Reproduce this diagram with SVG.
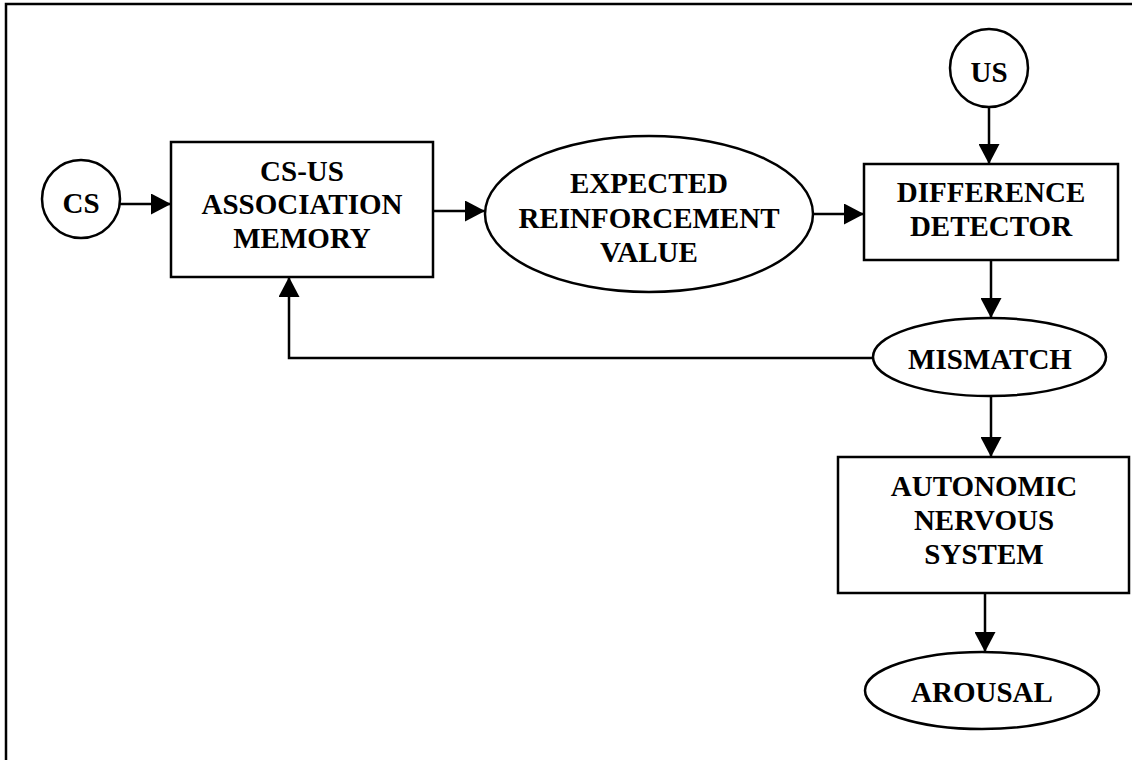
<svg xmlns="http://www.w3.org/2000/svg" width="1132" height="760" viewBox="0 0 1132 760">
  <defs>
    <marker id="arrow" markerUnits="userSpaceOnUse" markerWidth="21" markerHeight="21" refX="20" refY="10.5" orient="auto">
      <path d="M0,0 L20,10.5 L0,21 z" fill="#000"/>
    </marker>
    <style>
      .shape { fill: #fff; stroke: #000; stroke-width: 2.5; }
      .link { fill: none; stroke: #000; stroke-width: 2.5; marker-end: url(#arrow); }
      .label { font-family: "Liberation Serif", "Times New Roman", serif; font-weight: bold; font-size: 29px; fill: #000; text-anchor: middle; }
      .frame { fill: none; stroke: #000; stroke-width: 2.5; }
    </style>
  </defs>

  <rect width="1132" height="760" fill="#fff"/>
  <!-- outer frame: left and top edges -->
  <path class="frame" d="M6,760 V4 H1132"/>

  <g id="connectors">
    <line class="link" x1="120" y1="204" x2="171" y2="204"/>
    <line class="link" x1="433" y1="211" x2="485" y2="211"/>
    <line class="link" x1="813" y1="214" x2="864" y2="214"/>
    <line class="link" x1="989" y1="107" x2="989" y2="164"/>
    <line class="link" x1="991" y1="260" x2="991" y2="318"/>
    <line class="link" x1="991" y1="396" x2="991" y2="457"/>
    <line class="link" x1="985" y1="593" x2="985" y2="652"/>
    <path class="link" d="M873,358 H289 V277"/>
  </g>

  <g id="cs">
    <circle class="shape" cx="81" cy="199" r="39"/>
    <text class="label" x="81" y="213">CS</text>
  </g>

  <g id="association-memory">
    <rect class="shape" x="171" y="142" width="262" height="135"/>
    <text class="label" x="302" y="181">CS-US</text>
    <text class="label" x="302" y="214">ASSOCIATION</text>
    <text class="label" x="302" y="248">MEMORY</text>
  </g>

  <g id="expected-value">
    <ellipse class="shape" cx="649" cy="214" rx="164" ry="78"/>
    <text class="label" x="649" y="193">EXPECTED</text>
    <text class="label" x="649" y="228">REINFORCEMENT</text>
    <text class="label" x="649" y="262">VALUE</text>
  </g>

  <g id="us">
    <circle class="shape" cx="989" cy="68" r="39"/>
    <text class="label" x="989" y="82">US</text>
  </g>

  <g id="difference-detector">
    <rect class="shape" x="864" y="164" width="254" height="96"/>
    <text class="label" x="991" y="202">DIFFERENCE</text>
    <text class="label" x="991" y="236">DETECTOR</text>
  </g>

  <g id="mismatch">
    <ellipse class="shape" cx="989.5" cy="357" rx="116.5" ry="39"/>
    <text class="label" x="990" y="369">MISMATCH</text>
  </g>

  <g id="autonomic-nervous-system">
    <rect class="shape" x="838" y="457" width="291" height="136"/>
    <text class="label" x="984" y="496">AUTONOMIC</text>
    <text class="label" x="984" y="530">NERVOUS</text>
    <text class="label" x="984" y="564">SYSTEM</text>
  </g>

  <g id="arousal">
    <ellipse class="shape" cx="982" cy="690.5" rx="117" ry="38.5"/>
    <text class="label" x="982" y="702">AROUSAL</text>
  </g>
</svg>
